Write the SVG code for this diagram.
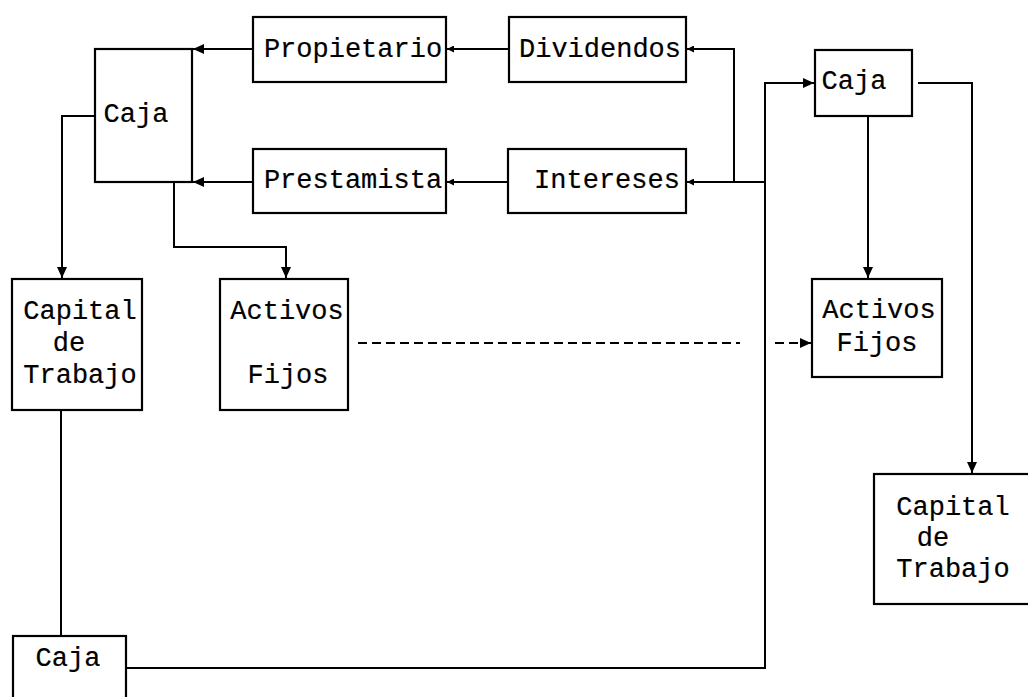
<svg xmlns="http://www.w3.org/2000/svg" width="1028" height="697" viewBox="0 0 1028 697">
<style>
.box{fill:none;stroke:#000;stroke-width:2.2}
.t{font-family:"Liberation Mono","Courier New",monospace;font-size:27px;fill:#000;stroke:#000;stroke-width:0.2;text-anchor:middle}
.c{fill:none;stroke:#000;stroke-width:2}
.d{fill:none;stroke:#000;stroke-width:2;stroke-dasharray:9 5}
</style>
<defs>
<marker id="ah" markerWidth="11" markerHeight="10" refX="11" refY="5" orient="auto" markerUnits="userSpaceOnUse">
<path d="M0,0 L11,5 L0,10 Z" fill="#000"/>
</marker>
<marker id="as" markerWidth="7" markerHeight="7" refX="7" refY="3.5" orient="auto" markerUnits="userSpaceOnUse">
<path d="M0,0 L7,3.5 L0,7 Z" fill="#000"/>
</marker>
</defs>
<rect width="1028" height="697" fill="#fff"/>

<g id="connectors">
<path class="c" d="M253,49 L193,49" marker-end="url(#ah)"/>
<path class="c" d="M253,182 L193,182" marker-end="url(#ah)"/>
<path class="c" d="M509,49 L447,49" marker-end="url(#as)"/>
<path class="c" d="M508,182 L447,182" marker-end="url(#as)"/>
<path class="c" d="M127,668 L765,668 L765,83 L814,83" marker-end="url(#ah)"/>
<path class="c" d="M765,182 L687,182" marker-end="url(#as)"/>
<path class="c" d="M734,182 L734,49 L687,49" marker-end="url(#as)"/>
<path class="c" d="M868,117 L868,278" marker-end="url(#ah)"/>
<path class="c" d="M918,83 L972,83 L972,473" marker-end="url(#ah)"/>
<path class="c" d="M95,116 L62,116 L62,278" marker-end="url(#ah)"/>
<path class="c" d="M174,183 L174,247 L286,247 L286,278" marker-end="url(#ah)"/>
<path class="c" d="M61,411 L61,636"/>
<path class="d" d="M358,343 L740,343"/>
<path class="d" d="M775,343 L811,343" marker-end="url(#ah)"/>
</g>

<g id="caja-left">
<rect class="box" x="95" y="49" width="97" height="133"/>
<text class="t" x="136" y="122">Caja</text>
</g>
<g id="propietario">
<rect class="box" x="253" y="17" width="193" height="65"/>
<text class="t" x="353" y="57">Propietario</text>
</g>
<g id="dividendos">
<rect class="box" x="509" y="17" width="177" height="65"/>
<text class="t" x="600" y="57">Dividendos</text>
</g>
<g id="prestamista">
<rect class="box" x="253" y="149" width="193" height="64"/>
<text class="t" x="353" y="188">Prestamista</text>
</g>
<g id="intereses">
<rect class="box" x="508" y="149" width="178" height="64"/>
<text class="t" x="607" y="188">Intereses</text>
</g>
<g id="caja-right">
<rect class="box" x="815" y="50" width="97" height="66"/>
<text class="t" x="854" y="89">Caja</text>
</g>
<g id="capital-left">
<rect class="box" x="12" y="279" width="130" height="131"/>
<text class="t" x="80" y="319">Capital</text>
<text class="t" x="69" y="351">de</text>
<text class="t" x="80" y="383">Trabajo</text>
</g>
<g id="activos-left">
<rect class="box" x="220" y="279" width="128" height="131"/>
<text class="t" x="287" y="319">Activos</text>
<text class="t" x="288" y="383">Fijos</text>
</g>
<g id="activos-right">
<rect class="box" x="812" y="279" width="130" height="98"/>
<text class="t" x="879" y="318">Activos</text>
<text class="t" x="877" y="351">Fijos</text>
</g>
<g id="capital-right">
<rect class="box" x="874" y="474" width="160" height="130"/>
<text class="t" x="953" y="515">Capital</text>
<text class="t" x="933" y="546">de</text>
<text class="t" x="953" y="577">Trabajo</text>
</g>
<g id="caja-bottom">
<rect class="box" x="13" y="636" width="113" height="80"/>
<text class="t" x="68" y="666">Caja</text>
</g>
</svg>
